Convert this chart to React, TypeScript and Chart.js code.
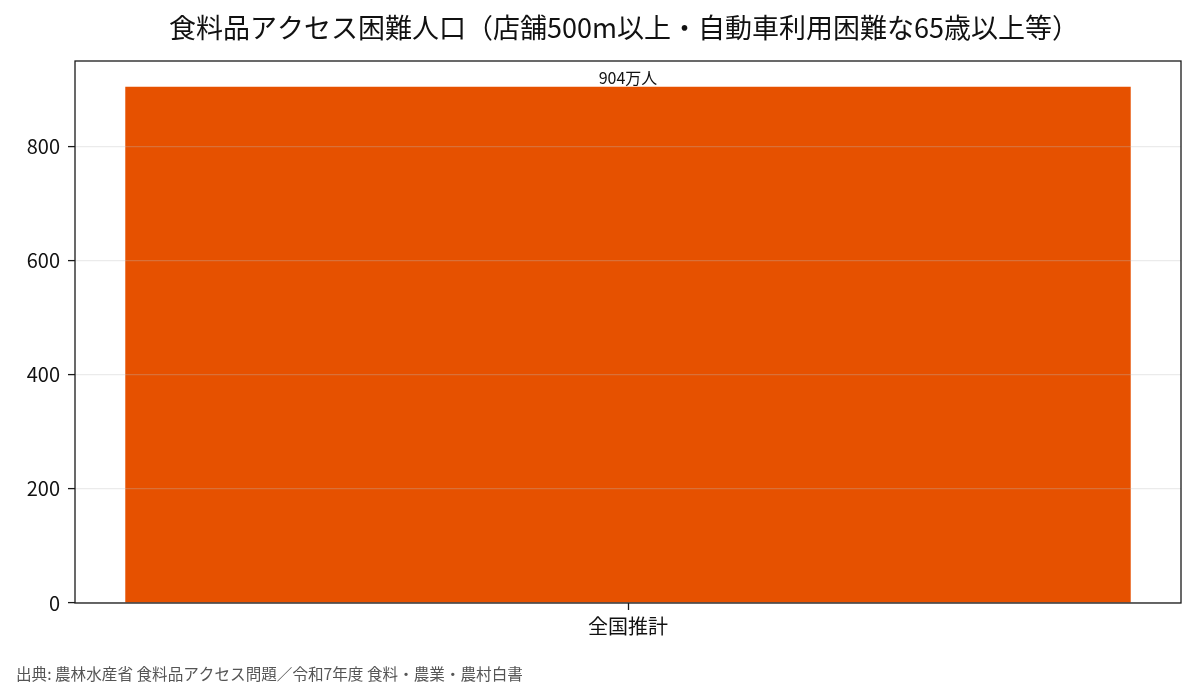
import React, { useEffect, useRef } from 'react';
import { Chart, registerables } from 'chart.js';

Chart.register(...registerables);

const chartTitle = '食料品アクセス困難人口（店舗500m以上・自動車利用困難な65歳以上等）';
const sourceNote = '出典: 農林水産省 食料品アクセス問題／令和7年度 食料・農業・農村白書';
const categories = ['全国推計'];
const values = [904];
const valueLabels = ['904万人'];
const yTicks = [0, 200, 400, 600, 800];

const FONT = '"Noto Sans CJK JP", "Noto Sans", sans-serif';

// 枠線・タイトル・注記・値ラベルを描く
const decorations = {
  id: 'decorations',
  afterDatasetsDraw(chart: any) {
    const ctx = chart.ctx;
    const meta = chart.getDatasetMeta(0);
    ctx.save();
    ctx.fillStyle = '#111';
    ctx.font = `16px ${FONT}`;
    ctx.textAlign = 'center';
    ctx.textBaseline = 'bottom';
    meta.data.forEach((bar: any, i: number) => {
      ctx.fillText(valueLabels[i], bar.x, bar.y - 1);
    });
    ctx.restore();
  },
  afterDraw(chart: any) {
    const ctx = chart.ctx;
    const a = chart.chartArea;
    ctx.save();
    ctx.strokeStyle = '#1a1a1a';
    ctx.lineWidth = 1.3;
    ctx.strokeRect(a.left, a.top, a.right - a.left, a.bottom - a.top);

    ctx.fillStyle = '#111';
    ctx.font = `27px ${FONT}`;
    ctx.textAlign = 'center';
    ctx.textBaseline = 'middle';
    ctx.fillText(chartTitle, (a.left + a.right) / 2 - 4, 28);

    ctx.fillStyle = '#555';
    ctx.font = `15.6px ${FONT}`;
    ctx.textAlign = 'left';
    ctx.fillText(sourceNote, 16, 674);
    ctx.restore();
  },
};

const App: React.FC = () => {
  const chartRef = useRef<HTMLCanvasElement>(null);
  const chartInstance = useRef<Chart | null>(null);

  useEffect(() => {
    if (!chartRef.current) return;
    if (chartInstance.current) chartInstance.current.destroy();

    chartInstance.current = new Chart(chartRef.current, {
      type: 'bar',
      data: {
        labels: categories,
        datasets: [
          {
            data: values,
            backgroundColor: '#E65100',
            borderWidth: 0,
            categoryPercentage: 1,
            barPercentage: 0.8 / 0.88,
          },
        ],
      },
      options: {
        responsive: false,
        animation: false,
        devicePixelRatio: 1,
        layout: { padding: { top: 61, right: 14, left: 0, bottom: 0 } },
        plugins: {
          legend: { display: false },
          tooltip: { enabled: false },
        },
        scales: {
          x: {
            grid: {
              drawOnChartArea: false,
              offset: false,
              tickLength: 7,
              tickColor: '#1a1a1a',
              tickWidth: 1.3,
            },
            border: { display: false },
            ticks: { color: '#111', font: { family: FONT, size: 20 }, padding: 4 },
            afterFit: (scale: any) => {
              scale.height = 95;
            },
          },
          y: {
            min: 0,
            max: values[0] * 1.05,
            grid: {
              z: 1,
              color: 'rgba(190,190,190,0.3)',
              lineWidth: 1.2,
              tickLength: 7,
              tickColor: '#1a1a1a',
              tickWidth: 1.3,
            },
            border: { display: false },
            ticks: { color: '#111', font: { family: FONT, size: 20 }, padding: 8 },
            afterBuildTicks: (scale: any) => {
              scale.ticks = yTicks.map((v) => ({ value: v }));
            },
            afterFit: (scale: any) => {
              scale.width = 75;
            },
          },
        },
      },
      plugins: [decorations],
    });

    return () => {
      if (chartInstance.current) {
        chartInstance.current.destroy();
        chartInstance.current = null;
      }
    };
  }, []);

  return (
    <div style={{ position: 'absolute', left: 0, top: 0, width: 1195, height: 698, background: '#fff' }}>
      <canvas ref={chartRef} width={1195} height={698} />
    </div>
  );
};

export default App;
